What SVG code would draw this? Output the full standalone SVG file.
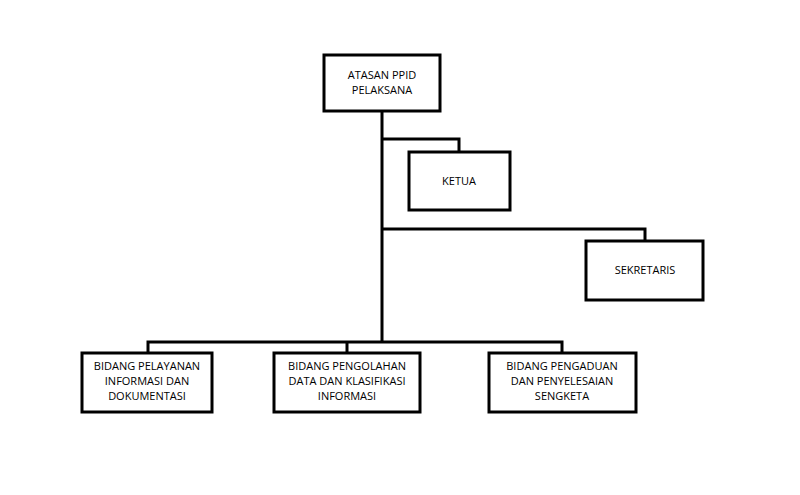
<svg xmlns="http://www.w3.org/2000/svg" width="800" height="495" viewBox="0 0 800 495">
<style>
.b{fill:#fff;stroke:#000;stroke-width:3}
.c{fill:none;stroke:#000;stroke-width:3}
text{font-family:"Open Sans","Noto Sans",sans-serif;font-size:11px;fill:#000;text-anchor:middle}
</style>
<rect width="800" height="495" fill="#fff"/>
<g id="connectors">
<path class="c" d="M382 111V342M382 139H459V152M382 229H645V241M148 352V342H562V352M347 342V352"/>
</g>
<g id="atasan"><rect class="b" x="324" y="55" width="116" height="56"/><text x="382" y="79">ATASAN PPID</text><text x="382" y="94">PELAKSANA</text></g>
<g id="ketua"><rect class="b" x="409" y="152" width="101" height="58"/><text x="459" y="185">KETUA</text></g>
<g id="sekretaris"><rect class="b" x="586" y="241" width="117" height="59"/><text x="645" y="274">SEKRETARIS</text></g>
<g id="bidang1"><rect class="b" x="82" y="353" width="130" height="59"/><text x="147" y="370">BIDANG PELAYANAN</text><text x="147" y="385">INFORMASI DAN</text><text x="147" y="400">DOKUMENTASI</text></g>
<g id="bidang2"><rect class="b" x="274" y="353" width="146" height="59"/><text x="347" y="370">BIDANG PENGOLAHAN</text><text x="347" y="385">DATA DAN KLASIFIKASI</text><text x="347" y="400">INFORMASI</text></g>
<g id="bidang3"><rect class="b" x="489" y="353" width="147" height="59"/><text x="562" y="370">BIDANG PENGADUAN</text><text x="562" y="385">DAN PENYELESAIAN</text><text x="562" y="400">SENGKETA</text></g>
</svg>
